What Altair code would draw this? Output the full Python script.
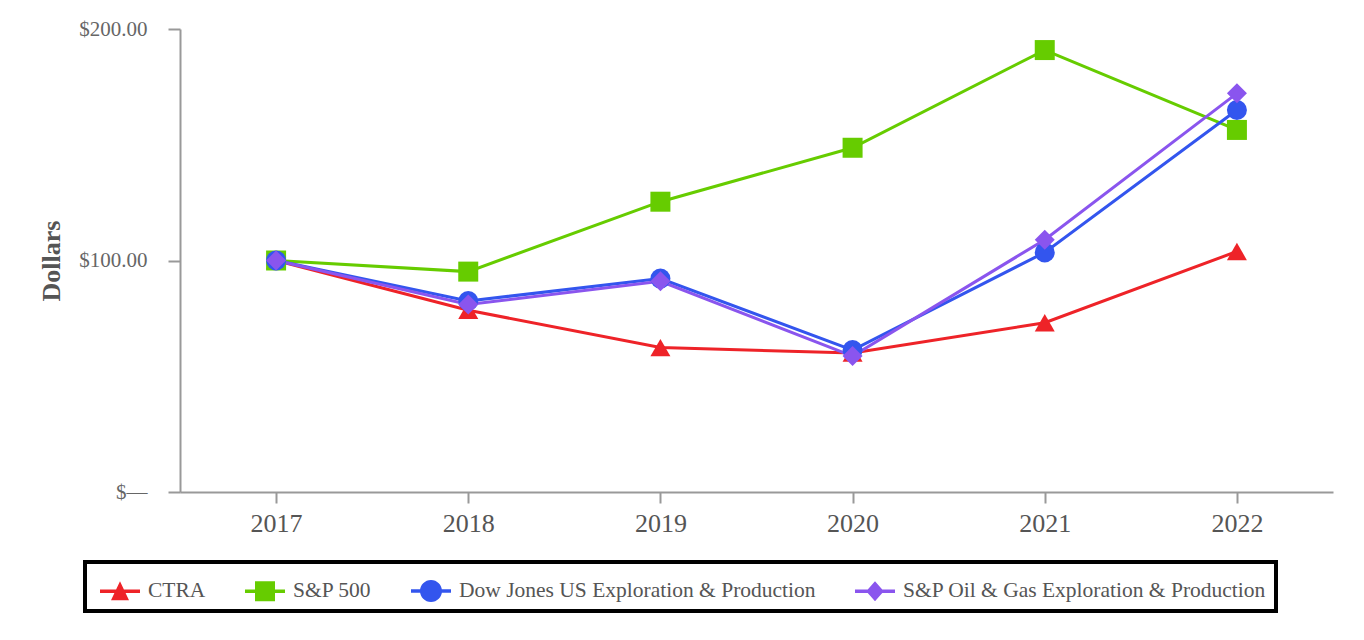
import altair as alt
import pandas as pd

years = ["2017", "2018", "2019", "2020", "2021", "2022"]
series = ["CTRA", "S&P 500", "Dow Jones US Exploration & Production",
          "S&P Oil & Gas Exploration & Production"]
ctra = [100, 78.5, 62.4, 60.0, 73.1, 103.9]
sp500 = [100, 95.2, 125.4, 148.7, 190.9, 156.4]
dowjones = [100, 82.5, 92.2, 61.3, 103.5, 165.0]
spog = [100, 81.0, 91.0, 58.7, 109.0, 172.2]
colors = ["#ee2328", "#66cc00", "#3355ee", "#8a55ee"]
shapes = ["triangle-up", "square", "circle", "diamond"]
y_ticks = [0, 100, 200]

values = [ctra, sp500, dowjones, spog]
rows = []
for s, vals in zip(series, values):
    for yr, v in zip(years, vals):
        rows.append({"Year": yr, "Series": s, "Value": v})
df = pd.DataFrame(rows)

# legend glyphs: a short line segment with the series marker on it
line_seg = "M-1,-0.085H1V0.085H-1Z"
legend_paths = [
    line_seg + "M0,-0.5L0.45,0.45L-0.45,0.45Z",
    line_seg + "M-0.5,-0.5H0.5V0.5H-0.5Z",
    line_seg + "M-0.55,0A0.55,0.55 0 1,1 0.55,0A0.55,0.55 0 1,1 -0.55,0Z",
    line_seg + "M0,-0.5L0.44,0L0,0.5L-0.44,0Z",
]

FONT = "Liberation Serif"


def build(border_mode):
    legend_kw = dict(
        title=None,
        orient="none",
        legendX=-95,
        legendY=533,
        direction="horizontal",
        columns=4,
        columnPadding=33,
        padding=9,
        symbolOffset=6,
        labelOffset=8,
        symbolSize=1600,
        symbolOpacity=1,
        symbolStrokeWidth=0,
        labelFont=FONT,
        labelFontSize=21.5,
        labelColor="#555555",
        labelLimit=600,
        strokeColor="#000000",
    )
    if border_mode == "legend":
        legend_kw["strokeWidth"] = 4
    legend = alt.Legend(**legend_kw)

    x_enc = alt.X(
        "Year:O",
        sort=years,
        scale=alt.Scale(type="point", padding=0.5),
        axis=alt.Axis(
            title=None,
            labelAngle=0,
            labelFont=FONT,
            labelFontSize=26,
            labelColor="#555555",
            labelPadding=7,
            tickSize=11,
            tickColor="#999999",
            tickWidth=2,
            domainColor="#999999",
            domainWidth=2,
            grid=False,
        ),
    )
    y_enc = alt.Y(
        "Value:Q",
        scale=alt.Scale(domain=[0, 200], nice=False, zero=True),
        axis=alt.Axis(
            title="Dollars",
            values=y_ticks,
            labelExpr="datum.value == 0 ? '$\u2014' : '$' + format(datum.value, '.2f')",
            labelFont=FONT,
            labelFontSize=21,
            labelColor="#666666",
            labelPadding=21,
            tickSize=12,
            tickColor="#999999",
            tickWidth=2,
            domainColor="#999999",
            domainWidth=2,
            titleFont=FONT,
            titleFontSize=26,
            titleFontWeight="bold",
            titleColor="#555555",
            titlePadding=14,
            grid=False,
        ),
    )
    color_scale = alt.Scale(domain=series, range=colors)

    base = alt.Chart(df).encode(x=x_enc, y=y_enc)

    lines = base.mark_line(strokeWidth=3).encode(
        color=alt.Color("Series:N", sort=series, scale=color_scale, legend=None)
    )
    points = base.mark_point(filled=True, size=400, opacity=1).encode(
        color=alt.Color("Series:N", sort=series, scale=color_scale, legend=None),
        shape=alt.Shape(
            "Series:N",
            sort=series,
            scale=alt.Scale(domain=series, range=shapes),
            legend=None,
        ),
    )
    # invisible copy of the points that only carries the legend
    legend_layer = base.mark_point(filled=True, size=400, opacity=0).encode(
        color=alt.Color("Series:N", sort=series, scale=color_scale, legend=legend),
        shape=alt.Shape(
            "Series:N",
            sort=series,
            scale=alt.Scale(domain=series, range=legend_paths),
            legend=legend,
        ),
    )

    ch = (
        alt.layer(lines, points, legend_layer)
        .resolve_scale(color="independent", shape="independent")
        .properties(
            width=1153,
            height=463,
            autosize=alt.AutoSizeParams(type="none"),
            padding={"left": 172, "top": 21, "right": 23, "bottom": 130},
            background="white",
        )
        .configure_view(stroke=None)
    )
    if border_mode == "config":
        ch = ch.configure_legend(strokeWidth=4)
    return ch


chart = None
for mode in ["legend", "config", "none"]:
    try:
        c = build(mode)
        c.to_dict()
        chart = c
        break
    except Exception:
        continue

chart.save("out.html", embed_options={"renderer": "svg", "actions": False})
